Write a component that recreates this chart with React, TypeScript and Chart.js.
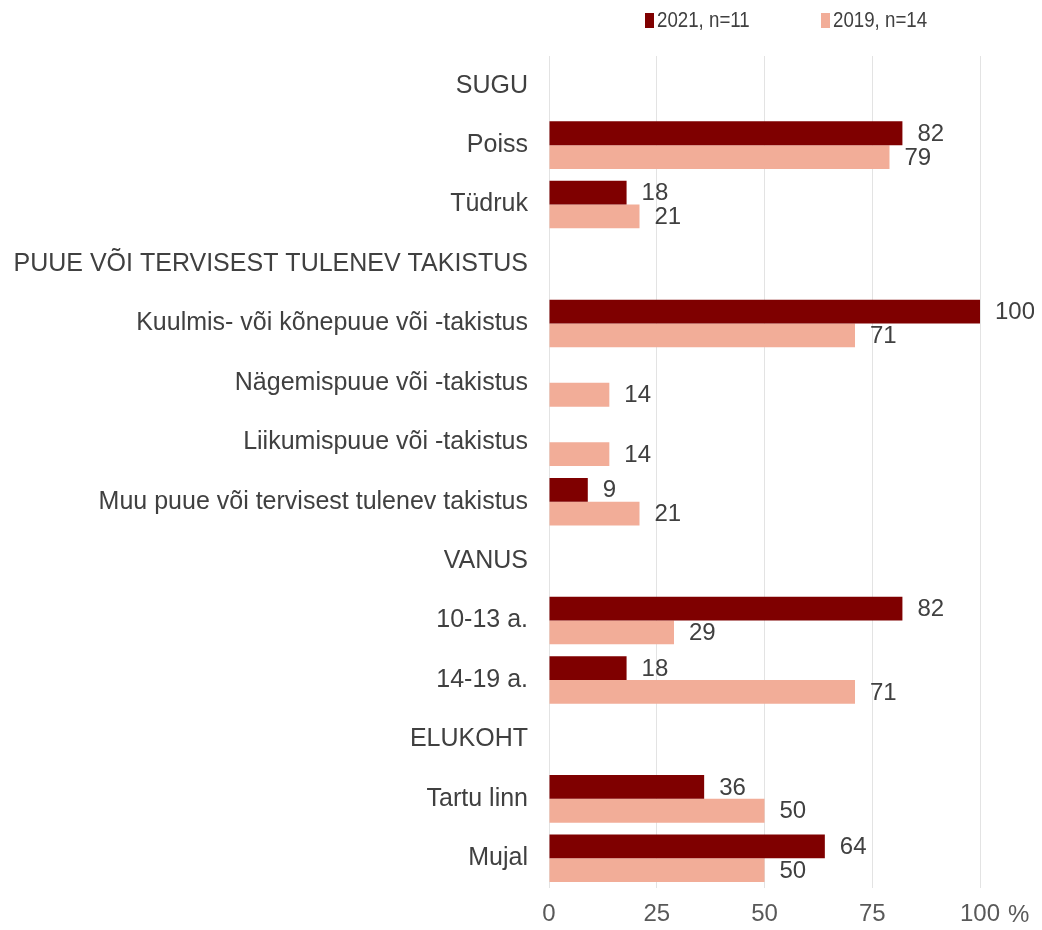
import React, { useEffect, useRef } from "react";
import { Chart, registerables } from "chart.js";

Chart.register(...registerables);

const categories: string[] = [
  "SUGU",
  "Poiss",
  "Tüdruk",
  "PUUE VÕI TERVISEST TULENEV TAKISTUS",
  "Kuulmis- või kõnepuue või -takistus",
  "Nägemispuue või -takistus",
  "Liikumispuue või -takistus",
  "Muu puue või tervisest tulenev takistus",
  "VANUS",
  "10-13 a.",
  "14-19 a.",
  "ELUKOHT",
  "Tartu linn",
  "Mujal",
];

const values2021: (number | null)[] = [null, 82, 18, null, 100, null, null, 9, null, 82, 18, null, 36, 64];
const values2019: (number | null)[] = [null, 79, 21, null, 71, 14, 14, 21, null, 29, 71, null, 50, 50];

const seriesLabels = ["2021, n=11", "2019, n=14"];
const seriesColors = ["#7f0000", "#f2ad98"];
const xTicks = [0, 25, 50, 75, 100];

const FONT = "'Liberation Sans', Arial, sans-serif";

const valueLabels = {
  id: "valueLabels",
  afterDatasetsDraw(chart: any) {
    const ctx = chart.ctx;
    ctx.save();
    ctx.font = `24px ${FONT}`;
    ctx.fillStyle = "#404040";
    ctx.textBaseline = "middle";
    ctx.textAlign = "left";
    chart.data.datasets.forEach((ds: any, di: number) => {
      const meta = chart.getDatasetMeta(di);
      meta.data.forEach((el: any, i: number) => {
        const v = ds.data[i];
        if (v === null || v === undefined) return;
        ctx.fillText(String(v), el.x + 15, el.y + 1);
      });
    });
    // percent sign after the last tick label
    const xs = chart.scales.x;
    const px = xs.getPixelForValue(100);
    ctx.fillStyle = "#595959";
    ctx.fillText("%", px + 28, chart.chartArea.bottom + 27);

    // legend
    const items = [
      { x: 637, label: seriesLabels[0], color: seriesColors[0] },
      { x: 813, label: seriesLabels[1], color: seriesColors[1] },
    ];
    ctx.font = `22px ${FONT}`;
    items.forEach((it) => {
      ctx.fillStyle = it.color;
      ctx.fillRect(it.x, 5, 9, 15);
      ctx.fillStyle = "#404040";
      ctx.save();
      ctx.translate(it.x + 12, 13);
      ctx.scale(0.85, 1);
      ctx.fillText(it.label, 0, 0);
      ctx.restore();
    });
    ctx.restore();
  },
};

export default function App() {
  const ref = useRef<HTMLCanvasElement | null>(null);
  useEffect(() => {
    if (!ref.current) return;
    const chart = new Chart(ref.current, {
      type: "bar",
      data: {
        labels: categories,
        datasets: [
          {
            label: seriesLabels[0],
            data: values2021 as any,
            backgroundColor: seriesColors[0],
            categoryPercentage: 0.8,
            barPercentage: 1.0,
          },
          {
            label: seriesLabels[1],
            data: values2019 as any,
            backgroundColor: seriesColors[1],
            categoryPercentage: 0.8,
            barPercentage: 1.0,
          },
        ],
      },
      options: {
        indexAxis: "y",
        animation: false,
        responsive: true,
        maintainAspectRatio: false,
        layout: { padding: { left: 0, right: 54, top: 48, bottom: 0 } },
        plugins: {
          legend: { display: false },
          tooltip: { enabled: false },
        },
        scales: {
          x: {
            min: 0,
            max: 100,
            afterBuildTicks: (axis: any) => {
              axis.ticks = xTicks.map((v) => ({ value: v }));
            },
            afterFit: (axis: any) => {
              axis.height = 42;
              axis.paddingLeft = 0;
              axis.paddingRight = 0;
            },
            grid: { color: "#e3e3e3", drawTicks: false },
            border: { display: false },
            ticks: {
              color: "#595959",
              font: { size: 24, family: FONT },
              padding: 12,
              maxRotation: 0,
            },
          },
          y: {
            afterFit: (axis: any) => {
              axis.width = 541;
              axis.paddingTop = 0;
              axis.paddingBottom = 0;
            },
            grid: { display: false },
            border: { display: false },
            ticks: {
              color: "#404040",
              font: { size: 25, family: FONT },
              padding: 13,
              autoSkip: false,
            },
          },
        },
      },
      plugins: [valueLabels],
    });
    return () => chart.destroy();
  }, []);
  return (
    <div style={{ width: 1026, height: 922, position: "relative" }}>
      <canvas ref={ref} />
    </div>
  );
}
